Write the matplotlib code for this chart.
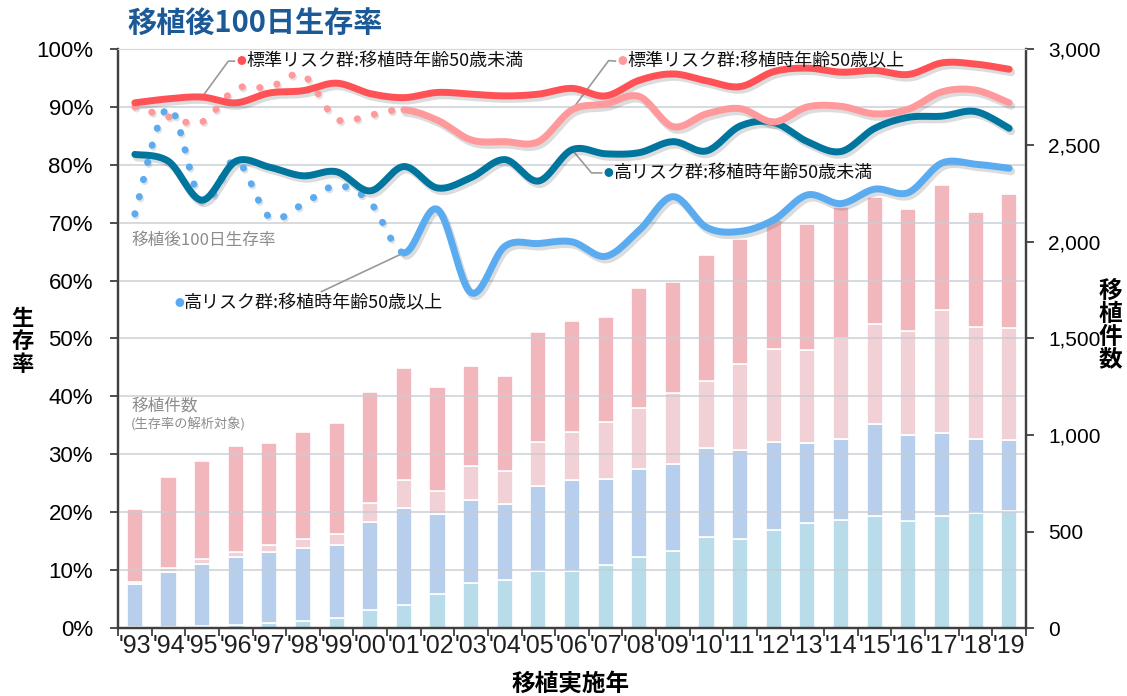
import numpy as np
import matplotlib
matplotlib.use("Agg")
import matplotlib.pyplot as plt
from matplotlib.transforms import offset_copy
from matplotlib.ticker import FuncFormatter, MultipleLocator, FixedLocator

JP = ["Noto Sans CJK JP", "DejaVu Sans"]
LAT = ["Liberation Sans", "DejaVu Sans"]
plt.rcParams["font.family"] = LAT

years = ["'93", "'94", "'95", "'96", "'97", "'98", "'99", "'00", "'01", "'02",
         "'03", "'04", "'05", "'06", "'07", "'08", "'09", "'10", "'11", "'12",
         "'13", "'14", "'15", "'16", "'17", "'18", "'19"]

# 100-day survival (%)
std_young = [90.7, 91.4, 91.7, 90.7, 92.4, 92.8, 94.1, 92.3, 91.6, 92.5, 92.2, 91.9, 92.2, 93.2,
             91.9, 94.6, 95.7, 94.5, 93.5, 96.1, 96.7, 96.0, 96.3, 95.6, 97.6, 97.4, 96.5]
std_old = [90.0, 88.3, 87.4, 93.1, 93.4, 95.5, 87.9, 88.6, 89.5, 87.7, 84.3, 84.0, 84.0, 89.5,
           90.5, 91.8, 86.6, 88.8, 89.7, 87.4, 90.0, 90.1, 88.8, 89.6, 92.6, 92.9, 90.7]
high_young = [81.8, 80.6, 73.9, 80.6, 79.6, 78.1, 78.8, 75.5, 79.7, 76.0, 77.8, 80.9, 77.2, 82.6,
              81.9, 82.1, 84.0, 82.4, 86.7, 87.3, 84.0, 82.3, 86.3, 88.2, 88.4, 89.2, 86.3]
high_old = [71.5, 89.9, 73.6, 80.8, 71.0, 73.2, 76.4, 73.5, 64.8, 72.3, 57.9, 65.9, 66.4, 66.7,
            64.2, 68.7, 74.5, 69.2, 68.5, 70.5, 74.8, 73.3, 75.8, 75.2, 80.3, 80.1, 79.4]

# number of transplants (analysed)
n_high_old = [3, 5, 10, 14, 24, 35, 52, 95, 117, 176, 233, 249, 297, 297, 326, 368, 399, 471,
              459, 509, 542, 558, 580, 554, 579, 597, 604]
n_high_young = [225, 287, 320, 352, 368, 378, 378, 453, 506, 415, 430, 393, 439, 470, 448, 456,
                452, 460, 463, 453, 415, 420, 478, 446, 430, 382, 368]
n_std_old = [9, 17, 27, 29, 38, 46, 59, 100, 145, 120, 176, 173, 229, 247, 295, 314, 365, 350,
             444, 482, 485, 526, 519, 539, 637, 582, 582]
n_std_young = [379, 475, 508, 550, 527, 555, 572, 576, 581, 536, 517, 492, 567, 578, 542, 625,
               578, 653, 651, 670, 653, 677, 658, 633, 651, 596, 693]


def smooth(xs, ys, n=24):
    # Excel-style smoothed line: cubic bezier through each point
    p = np.column_stack([xs, ys]).astype(float)
    out = [p[:1]]
    for i in range(len(p) - 1):
        p0 = p[max(i - 1, 0)]
        p3 = p[min(i + 2, len(p) - 1)]
        c1 = p[i] + (p[i + 1] - p0) / 6
        c2 = p[i + 1] - (p3 - p[i]) / 6
        t = np.linspace(0, 1, n)[1:, None]
        out.append((1 - t) ** 3 * p[i] + 3 * (1 - t) ** 2 * t * c1
                   + 3 * (1 - t) * t ** 2 * c2 + t ** 3 * p[i + 1])
    return np.vstack(out), n - 1


fig = plt.figure(figsize=(11.27, 6.96), dpi=100)
ax = fig.add_axes([0.1047, 0.0977, 0.8057, 0.8319])
ax2 = ax.twinx()
ax.set_zorder(2)
ax2.set_zorder(1)
ax.patch.set_visible(False)
ax2.patch.set_facecolor("#E4EEFC")

x = np.arange(len(years))

# stacked bars (right axis)
bar_sets = [(n_high_old, "#B8DCE9"), (n_high_young, "#B8CEED"),
            (n_std_old, "#F1D0D6"), (n_std_young, "#F1B7BD")]
bottom = np.zeros(len(years))
for vals, col in bar_sets:
    ax2.bar(x, vals, width=0.48, bottom=bottom, color=col, edgecolor="white", linewidth=1.2)
    bottom += np.array(vals)

# survival lines (left axis), with a soft drop shadow
shadow_tr = offset_copy(ax.transData, fig=fig, x=1.5, y=-2.2, units="points")
dot_shadow_tr = offset_copy(ax.transData, fig=fig, x=1.0, y=-1.5, units="points")
dots = (0, (0.05, 2.5))
series = [(high_old, "#5AABEF", 8), (high_young, "#00769F", 0),
          (std_old, "#FF999B", 8), (std_young, "#FF5257", 0)]
for vals, col, dotted_upto in series:
    pts, step = smooth(x, vals)
    k = dotted_upto * step
    if k > 0:
        dx_, dy_ = pts[:k + 1, 0], pts[:k + 1, 1]
        ax.plot(dx_, dy_, color="#404040", alpha=0.15, lw=5.0, ls=dots,
                dash_capstyle="round", transform=dot_shadow_tr, zorder=2.8)
        ax.plot(dx_, dy_, color=col, lw=5.0, ls=dots, dash_capstyle="round", zorder=3)
    ax.plot(pts[k:, 0], pts[k:, 1], color="#404040", alpha=0.18, lw=5.6,
            solid_capstyle="round", transform=shadow_tr, zorder=2.8)
    ax.plot(pts[k:, 0], pts[k:, 1], color=col, lw=5, solid_capstyle="round", zorder=3)

ax.set_xlim(-0.5, len(years) - 0.5)
ax.set_ylim(0, 100)
ax2.set_ylim(0, 3000)

ax.yaxis.set_major_locator(MultipleLocator(10))
ax.yaxis.set_major_formatter(FuncFormatter(lambda v, p: f"{v:.0f}%"))
ax2.yaxis.set_major_locator(MultipleLocator(500))
ax2.yaxis.set_major_formatter(FuncFormatter(lambda v, p: f"{v:,.0f}"))
ax.grid(axis="y", color="#C8CCD2", lw=1.3, alpha=0.8, zorder=1)
ax.set_axisbelow(True)

ax.set_xticks(x)
ax.set_xticklabels(years, fontsize=18)
ax.xaxis.set_minor_locator(FixedLocator(np.arange(-0.5, len(years), 1)))
ax.tick_params(axis="x", which="major", length=0, pad=4, colors="#202020")
ax.tick_params(axis="x", which="minor", length=6, width=1.2, color="#303030")
ax.tick_params(axis="y", length=6, width=1.2, labelsize=16, pad=12, color="#303030")
ax2.tick_params(axis="y", length=6, width=1.2, labelsize=15, pad=10, color="#303030")
ax2.tick_params(axis="x", length=0)

for a in (ax, ax2):
    a.spines["top"].set_color("#D8D8D8")
    for s in ("left", "right", "bottom"):
        a.spines[s].set_color("#404040")
        a.spines[s].set_linewidth(1.6)

# labels
fig.text(0.1127, 0.967, "移植後100日生存率", family=JP, fontsize=21, fontweight="bold",
         color="#1B5A97", va="center", ha="left")
fig.text(0.02, 0.51, "生\n存\n率", family=JP, fontsize=16, fontweight="bold",
         ha="center", va="center", linespacing=1.0)
fig.text(0.985, 0.533, "移\n植\n件\n数", family=JP, fontsize=17, fontweight="bold",
         ha="center", va="center", linespacing=0.95)
fig.text(0.506, 0.017, "移植実施年", family=JP, fontsize=17, fontweight="bold",
         ha="center", va="center")

ax.text(-0.11, 67.0, "移植後100日生存率", family=JP, fontsize=12, color="#8C8C8C", va="center")
ax.text(-0.11, 38.3, "移植件数", family=JP, fontsize=12, color="#8C8C8C", va="center")
ax.text(-0.11, 35.1, "(生存率の解析対象)", family=JP, fontsize=9.5, color="#8C8C8C", va="center")

# series labels with leader lines
labels = [
    ("標準リスク群:移植時年齢50歳未満", "#FF5257", std_young, 2, (2.78, 97.9), 3.16, 97.9),
    ("標準リスク群:移植時年齢50歳以上", "#FF999B", std_old, 13, (14.09, 98.0), 14.49, 97.9),
    ("高リスク群:移植時年齢50歳未満", "#00769F", high_young, 13, (13.58, 78.6), 14.08, 78.6),
    ("高リスク群:移植時年齢50歳以上", "#5AABEF", high_old, 8, (5.55, 58.1), 1.32, 56.1),
]
for text, col, vals, i, corner, dx, dy in labels:
    if corner[0] > i:
        lx = [i, corner[0], dx - 0.2]
        ly = [vals[i], corner[1], dy]
    else:
        lx = [i, corner[0]]
        ly = [vals[i], corner[1]]
    ax.plot(lx, ly, color="#999999", lw=1.2, zorder=2.5)
    ax.text(dx, dy, "●", family=JP, fontsize=7, color=col, ha="center", va="center", zorder=4)
    ax.text(dx + 0.15, dy, text, family=JP, fontsize=13, color="#111111", ha="left",
            va="center", zorder=4)

fig.savefig("out.png", dpi=100, facecolor="white")
